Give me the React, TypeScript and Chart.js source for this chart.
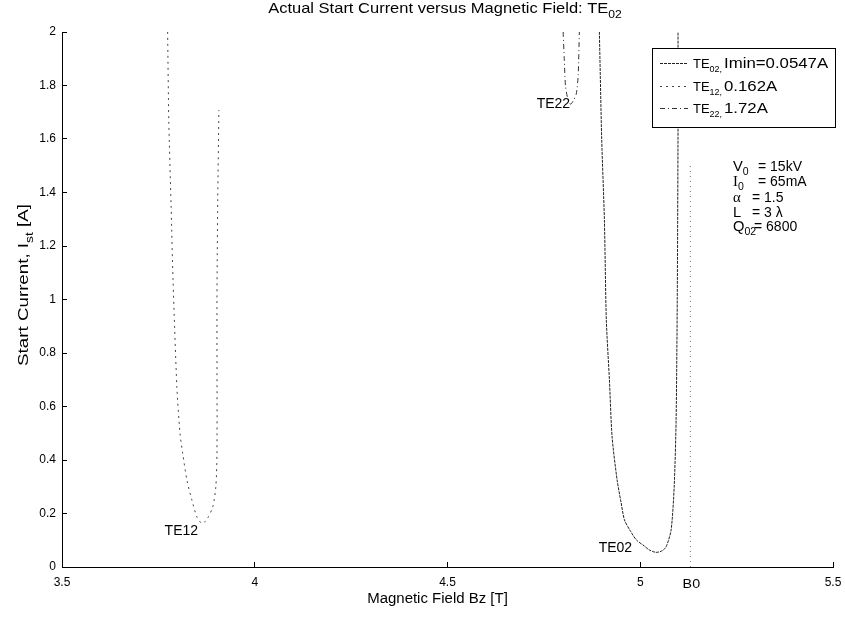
import React, { useEffect, useRef } from "react";
import { Chart, registerables } from "chart.js";
Chart.register(...registerables);

const FONT = "'Liberation Sans', Arial, Helvetica, sans-serif";
const SERIF = "'Liberation Serif', 'Times New Roman', serif";

// TE02 start-current curve
const te02X = [4.894, 4.9, 4.907, 4.912, 4.92, 4.927, 4.94, 4.95, 4.959, 4.973, 4.99, 5.01, 5.023, 5.041, 5.056, 5.067, 5.08, 5.088, 5.093, 5.096, 5.098, 5.098];
const te02Y = [2.0, 1.6, 1.297, 0.923, 0.7, 0.486, 0.325, 0.243, 0.176, 0.138, 0.101, 0.079, 0.064, 0.0547, 0.06, 0.075, 0.138, 0.299, 0.55, 1.0, 1.64, 2.0];
// TE12 start-current curve
const te12X = [3.774, 3.777, 3.783, 3.788, 3.798, 3.806, 3.813, 3.824, 3.837, 3.85, 3.863, 3.87, 3.878, 3.891, 3.899, 3.902, 3.902, 3.904, 3.907];
const te12Y = [2.0, 1.671, 1.35, 1.073, 0.673, 0.501, 0.426, 0.325, 0.25, 0.187, 0.162, 0.168, 0.183, 0.224, 0.299, 0.426, 0.998, 1.372, 1.708];
// TE22 start-current curve
const te22X = [4.8, 4.803, 4.806, 4.811, 4.819, 4.826, 4.834, 4.839, 4.842];
const te22Y = [2.0, 1.895, 1.8, 1.757, 1.73, 1.742, 1.768, 1.839, 2.0];
// B0 marker line
const b0X = [5.13, 5.13];
const b0Y = [0, 1.5];

const xTickValues = [3.5, 4, 4.5, 5, 5.5];
const yTickValues = [0, 0.2, 0.4, 0.6, 0.8, 1, 1.2, 1.4, 1.6, 1.8, 2];

const legendSubs = ["02", "12", "22"];
const legendValues = ["Imin=0.0547A", "0.162A", "1.72A"];

// curve labels: [text, x value, y value] (right-aligned at point)
const curveLabels: [string, number, number][] = [
  ["TE12", 3.853, 0.138],
  ["TE02", 4.979, 0.075],
  ["TE22", 4.818, 1.735],
];

type Seg = { t: string; sub?: boolean; serif?: boolean };

function segFont(s: Seg, size: number) {
  const sz = s.sub ? Math.round(size * 0.72) : size;
  return `${sz}px ${s.serif ? SERIF : FONT}`;
}

function measureRich(ctx: CanvasRenderingContext2D, segs: Seg[], size: number) {
  let w = 0;
  for (const s of segs) {
    ctx.font = segFont(s, size);
    w += ctx.measureText(s.t).width;
  }
  return w;
}

function drawRich(
  ctx: CanvasRenderingContext2D,
  segs: Seg[],
  x: number,
  y: number,
  size: number,
  align: "left" | "center" | "right" = "left",
  sx = 1,
  rotate = 0
) {
  ctx.save();
  ctx.translate(x, y);
  if (rotate) ctx.rotate(rotate);
  ctx.scale(sx, 1);
  ctx.textBaseline = "alphabetic";
  ctx.textAlign = "left";
  ctx.fillStyle = "#000";
  const w = measureRich(ctx, segs, size);
  let cx = align === "left" ? 0 : align === "center" ? -w / 2 : -w;
  for (const s of segs) {
    ctx.font = segFont(s, size);
    ctx.fillText(s.t, cx, s.sub ? size * 0.32 : 0);
    cx += ctx.measureText(s.t).width;
  }
  ctx.restore();
}

const decorPlugin = {
  id: "decor",
  afterDraw(chart: any) {
    const ctx: CanvasRenderingContext2D = chart.ctx;
    const xs = chart.scales.x;
    const ys = chart.scales.y;
    const area = chart.chartArea;
    const midX = (area.left + area.right) / 2;

    // Title
    drawRich(ctx, [{ t: "Actual Start Current versus Magnetic Field: TE" }, { t: "02", sub: true }], 445, 13, 15, "center", 1.1);

    // Axis titles
    drawRich(ctx, [{ t: "Magnetic Field Bz [T]" }], midX - 10, 603, 14, "center", 1.07);
    drawRich(
      ctx,
      [{ t: "Start Current, I" }, { t: "st", sub: true }, { t: " [A]" }],
      28,
      285,
      15,
      "center",
      1.25,
      -Math.PI / 2
    );

    // Curve labels
    for (const [t, vx, vy] of curveLabels) {
      drawRich(ctx, [{ t }], xs.getPixelForValue(vx), ys.getPixelForValue(vy) + 5, 14, "right");
    }
    // B0 label
    drawRich(ctx, [{ t: "B0" }], xs.getPixelForValue(b0X[0]) + 1, area.bottom + 21, 13, "center", 1.1);

    // Parameter block
    const px = 733;
    const rows: [Seg[], Seg[], number, number][] = [
      [[{ t: "V" }, { t: "0", sub: true }], [{ t: "= 15kV" }], 758, 171],
      [[{ t: "I", serif: true }, { t: "0", sub: true }], [{ t: "= 65mA" }], 758, 186],
      [[{ t: "α", serif: true }], [{ t: "= 1.5" }], 752, 202],
      [[{ t: "L" }], [{ t: "= 3 λ" }], 752, 217],
      [[{ t: "Q" }, { t: "02", sub: true }], [{ t: "= 6800" }], 754, 231],
    ];
    for (const [lab, val, vx, by] of rows) {
      drawRich(ctx, lab, px, by, 14, "left", 1.05);
      drawRich(ctx, val, vx, by, 14, "left", 1.0);
    }

    // Legend box
    const bx = 652, by = 48, bw = 183, bh = 79;
    ctx.save();
    ctx.fillStyle = "#fff";
    ctx.fillRect(bx, by, bw, bh);
    ctx.strokeStyle = "#000";
    ctx.lineWidth = 1;
    ctx.strokeRect(bx + 0.5, by + 0.5, bw, bh);
    ctx.restore();
    const rowY = [63, 86, 108];
    for (let i = 0; i < 3; i++) {
      const ds = chart.data.datasets[i];
      ctx.save();
      ctx.strokeStyle = ds.borderColor;
      ctx.lineWidth = ds.borderWidth;
      ctx.setLineDash(ds.borderDash || []);
      ctx.beginPath();
      ctx.moveTo(660, rowY[i] + 0.5);
      ctx.lineTo(688, rowY[i] + 0.5);
      ctx.stroke();
      ctx.restore();
      drawRich(ctx, [{ t: "TE" }, { t: legendSubs[i], sub: true }, { t: ",", sub: true }], 693, rowY[i] + 5, 13, "left", 1.0);
      drawRich(ctx, [{ t: legendValues[i] }], 724, rowY[i] + 5, 14, "left", 1.2);
    }
  },
};

function pts(xs: number[], ys: number[]) {
  return xs.map((x, i) => ({ x, y: ys[i] }));
}

export default function App() {
  const ref = useRef<HTMLCanvasElement | null>(null);
  useEffect(() => {
    if (!ref.current) return;
    Chart.defaults.font.family = FONT;
    Chart.defaults.color = "#000";
    const chart = new Chart(ref.current, {
      type: "line",
      data: {
        datasets: [
          { label: "TE02", data: pts(te02X, te02Y), borderColor: "#222", borderWidth: 1, borderDash: [3, 1], pointRadius: 0, tension: 0.25, fill: false },
          { label: "TE12", data: pts(te12X, te12Y), borderColor: "#444", borderWidth: 1, borderDash: [2, 4], pointRadius: 0, tension: 0.25, fill: false },
          { label: "TE22", data: pts(te22X, te22Y), borderColor: "#333", borderWidth: 1, borderDash: [5, 3, 1, 3], pointRadius: 0, tension: 0.25, fill: false },
          { label: "B0", data: pts(b0X, b0Y), borderColor: "#777", borderWidth: 1, borderDash: [1, 4], pointRadius: 0, fill: false },
        ],
      },
      options: {
        animation: false,
        responsive: true,
        maintainAspectRatio: false,
        layout: { padding: { left: 0, top: 32, right: 12, bottom: 0 } },
        plugins: { legend: { display: false }, title: { display: false }, tooltip: { enabled: false } },
        scales: {
          x: {
            type: "linear",
            min: 3.5,
            max: 5.5,
            afterBuildTicks: (s: any) => {
              s.ticks = xTickValues.map((v) => ({ value: v }));
            },
            afterFit: (s: any) => {
              s.height = 50;
              s.paddingLeft = 0;
              s.paddingRight = 0;
            },
            ticks: { font: { size: 12, family: FONT }, color: "#000", padding: 13, maxRotation: 0, autoSkip: false, callback: (v: any) => String(v) },
            grid: { drawOnChartArea: false, drawTicks: true, tickLength: -5, color: "#000" },
            border: { display: true, color: "#000", width: 1 },
          },
          y: {
            type: "linear",
            min: 0,
            max: 2,
            afterBuildTicks: (s: any) => {
              s.ticks = yTickValues.map((v) => ({ value: v }));
            },
            afterFit: (s: any) => {
              s.width = 62;
              s.paddingTop = 0;
              s.paddingBottom = 0;
            },
            ticks: { font: { size: 12, family: FONT }, color: "#000", padding: 11, autoSkip: false, callback: (v: any) => String(v) },
            grid: { drawOnChartArea: false, drawTicks: true, tickLength: -5, color: "#000" },
            border: { display: true, color: "#000", width: 1 },
          },
        },
      },
      plugins: [decorPlugin],
    } as any);
    return () => chart.destroy();
  }, []);
  return (
    <div style={{ position: "absolute", left: 0, top: 0, width: 845, height: 617, background: "#fff" }}>
      <canvas ref={ref} />
    </div>
  );
}
